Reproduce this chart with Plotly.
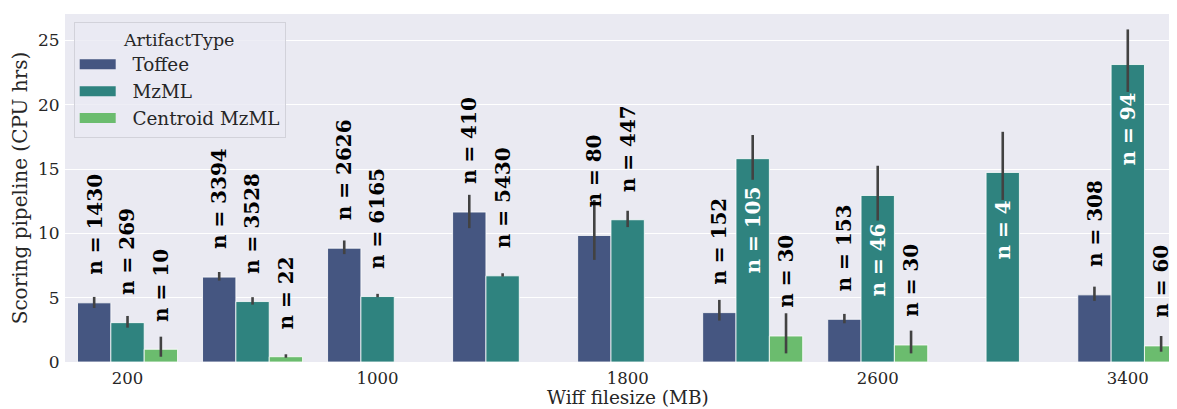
import plotly.graph_objects as go

categories = [200, 600, 1000, 1400, 1800, 2200, 2600, 3000, 3400]
tick_labels = ["200", "1000", "1800", "2600", "3400"]
tick_index = [0, 2, 4, 6, 8]

series_names = ["Toffee", "MzML", "Centroid MzML"]

toffee_mean = [4.6, 6.6, 8.85, 11.66, 9.84, 3.84, 3.32, None, 5.22]
toffee_lo = [4.2, 6.33, 8.39, 10.41, 7.94, 3.22, 3.01, None, 4.75]
toffee_hi = [5.06, 7.0, 9.45, 13.0, 12.6, 4.83, 3.74, None, 5.86]
toffee_n = [1430, 3394, 2626, 410, 80, 152, 153, None, 308]

mzml_mean = [3.06, 4.7, 5.09, 6.7, 11.06, 15.81, 12.95, 14.74, 23.13]
mzml_lo = [2.67, 4.46, 5.04, 6.64, 10.49, 14.17, 11.0, 12.6, 21.0]
mzml_hi = [3.58, 5.04, 5.3, 6.9, 11.76, 17.65, 15.26, 17.9, 25.86]
mzml_n = [269, 3528, 6165, 5430, 447, 105, 46, 4, 94]

centroid_mean = [0.99, 0.41, None, None, None, 2.02, 1.32, None, 1.25]
centroid_lo = [0.41, 0.33, None, None, None, 0.67, 0.67, None, 0.8]
centroid_hi = [1.97, 0.6, None, None, None, 3.79, 2.44, None, 2.02]
centroid_n = [10, 22, None, None, None, 30, 30, None, 60]

colors = ["#455681", "#2f837f", "#6bbc6e"]

means = [toffee_mean, mzml_mean, centroid_mean]
los = [toffee_lo, mzml_lo, centroid_lo]
his = [toffee_hi, mzml_hi, centroid_hi]
ns = [toffee_n, mzml_n, centroid_n]

FONT = "DejaVu Serif"
TXT = "#262626"
NBSP = "\u00a0"

fig = go.Figure()
xs = list(range(len(categories)))
for k, name in enumerate(series_names):
    m, lo, hi = means[k], los[k], his[k]
    plus = [None if v is None else h - v for v, h in zip(m, hi)]
    minus = [None if v is None else v - l for v, l in zip(m, lo)]
    fig.add_trace(go.Bar(
        x=xs, y=m, name=name, legendgroup=name, showlegend=False,
        marker=dict(color=colors[k], line=dict(color="rgba(255,255,255,0.8)", width=1)),
        error_y=dict(type="data", symmetric=False, array=plus, arrayminus=minus,
                     color="#424242", thickness=2.6, width=0),
    ))
# legend entries drawn as wide swatches (like the reference's rectangular patches)
for k, name in enumerate(series_names):
    fig.add_trace(go.Scatter(
        x=[None], y=[None], mode="lines", name=NBSP * 2 + name, legendgroup=name,
        line=dict(color=colors[k], width=12), hoverinfo="skip",
    ))

group_w = 0.8
bar_w = group_w / 3
annotations = []
for k in range(3):
    for i, (v, n) in enumerate(zip(means[k], ns[k])):
        if v is None or n is None:
            continue
        x = i + (k - 1) * bar_w
        inside = v > 12
        annotations.append(dict(
            x=x, y=(v - 2) if inside else (v + 2), xref="x", yref="y",
            text="<b>n = %d</b>" % n, showarrow=False, textangle=-90,
            yanchor="top" if inside else "bottom", xanchor="center",
            font=dict(family=FONT, size=20, color="white" if inside else "black"),
        ))
# x-axis title centred on the full category axis (the reference's axis runs past the right edge)
annotations.append(dict(
    x=(len(categories) - 1) / 2.0, y=0, xref="x", yref="paper",
    text="Wiff filesize (MB)", showarrow=False, xanchor="center", yanchor="top",
    yshift=-23.5, borderpad=0, font=dict(family=FONT, size=18.5, color=TXT),
))

# the page body has an 8px margin; the figure is sized to fill the window after it
PAGE = 8
W, H = 1177 - PAGE, 409 - PAGE
left, top, bottom = 65.3 - PAGE, 14 - PAGE, 47
xmax = (W - left) / 125.0 - 0.5

fig.update_layout(
    width=W, height=H,
    margin=dict(l=left, r=0, t=top, b=bottom),
    barmode="group", bargap=0.2, bargroupgap=0,
    plot_bgcolor="#eaeaf2", paper_bgcolor="white",
    font=dict(family=FONT, size=15, color=TXT),
    annotations=annotations,
    legend=dict(
        x=(74 - 65.3) / (1177 - 65.3), y=(362 - 22) / 348.0, xanchor="left", yanchor="top",
        bgcolor="rgba(234,234,242,0.8)", bordercolor="#d2d2da", borderwidth=1,
        font=dict(family=FONT, size=18.4, color=TXT),
        title=dict(text="ArtifactType", side="top center", font=dict(family=FONT, size=17.5, color=TXT)),
        tracegroupgap=0, itemwidth=36,
    ),
    showlegend=True,
)
fig.update_xaxes(
    range=[-0.5, xmax], tickvals=tick_index, ticktext=tick_labels,
    showgrid=False, zeroline=False, ticks="outside", ticklen=1, tickcolor="rgba(0,0,0,0)",
    tickfont=dict(family=FONT, size=16.5, color=TXT),
)
fig.update_yaxes(
    range=[0, 27.06], tickvals=[0, 5, 10, 15, 20, 25],
    showgrid=True, gridcolor="white", gridwidth=1, zeroline=False,
    ticks="outside", ticklen=1, tickcolor="rgba(0,0,0,0)",
    tickfont=dict(family=FONT, size=17, color=TXT),
    title=dict(text="Scoring pipeline (CPU hrs)", font=dict(family=FONT, size=20, color=TXT), standoff=4),
)

fig.write_html("out.html")
